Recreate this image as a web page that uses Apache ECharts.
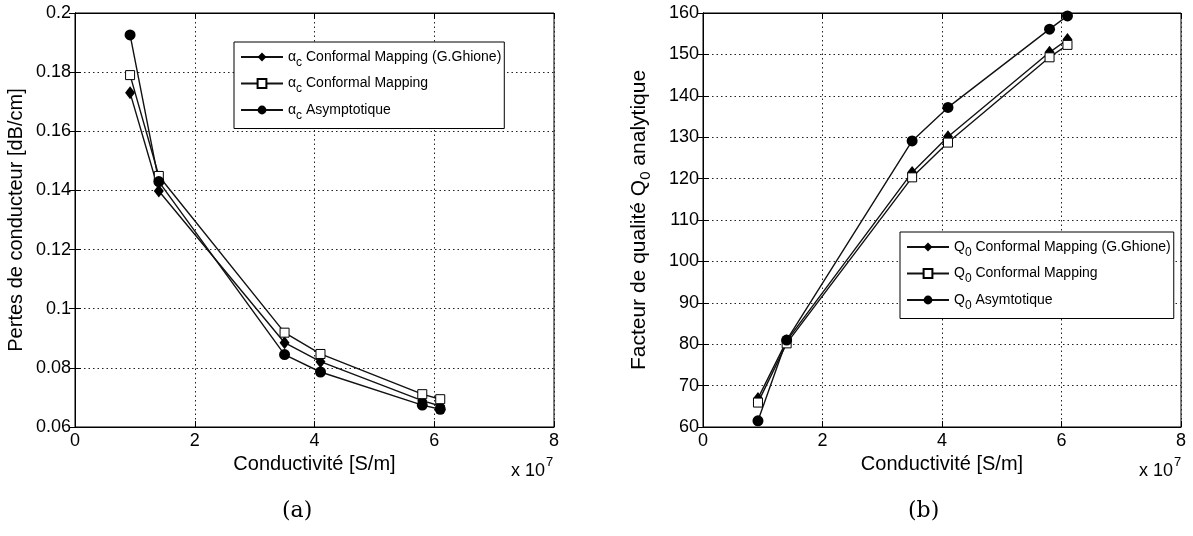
<!DOCTYPE html>
<html><head><meta charset="utf-8">
<script src="https://cdn.jsdelivr.net/npm/echarts@6/dist/echarts.min.js"></script>
<style>html,body{margin:0;padding:0;background:#fff}#c{width:1193px;height:536px}</style>
</head><body><div id="c"></div>
<script>
// ---- data (conductivity in units of 1e7 S/m) ----
const xCond = [0.92, 1.4, 3.5, 4.1, 5.8, 6.1];
const alphaGhione = [0.173, 0.1398, 0.0885, 0.0821, 0.0689, 0.0671];
const alphaConformal = [0.179, 0.1449, 0.0919, 0.0847, 0.0711, 0.0694];
const alphaAsym = [0.1926, 0.143, 0.0845, 0.0786, 0.0674, 0.066];
const qGhione = [66.9, 80.8, 121.5, 130.1, 150.5, 153.6];
const qConformal = [65.9, 80.2, 120.3, 128.7, 149.3, 152.3];
const qAsym = [61.5, 81.0, 129.1, 137.2, 156.1, 159.3];
const xTicks = [0, 2, 4, 6, 8];
const yTicksLeft = [0.06, 0.08, 0.1, 0.12, 0.14, 0.16, 0.18, 0.2];
const yTicksRight = [60, 70, 80, 90, 100, 110, 120, 130, 140, 150, 160];
const legendLeft = ['αc Conformal Mapping (G.Ghione)', 'αc Conformal Mapping', 'αc Asymptotique'];
const legendRight = ['Q0 Conformal Mapping (G.Ghione)', 'Q0 Conformal Mapping', 'Q0 Asymtotique'];

const FONT = 'Liberation Sans, Arial, sans-serif';
const chart = echarts.init(document.getElementById('c'));

function pair(xs, ys) { return xs.map((x, i) => [x, ys[i]]); }
function fmtLegend(name) {
  return '{m|' + name.charAt(0) + '}{s|' + name.charAt(1) + '}{m|' + name.slice(2) + '}';
}
const gridLine = { show: true, lineStyle: { color: '#222', type: [1.5, 3], width: 1 } };
const tickIn = { inside: true, length: 6, lineStyle: { color: '#000' } };
function xAxisDef(gi) {
  return {
    type: 'value', gridIndex: gi, min: xTicks[0], max: xTicks[xTicks.length - 1],
    interval: xTicks[1] - xTicks[0],
    name: 'Conductivité [S/m]', nameLocation: 'middle', nameGap: 27,
    nameTextStyle: { fontFamily: FONT, fontSize: 20, color: '#000' },
    axisLine: { lineStyle: { color: '#000', width: 1 } },
    axisTick: tickIn,
    axisLabel: { fontFamily: FONT, fontSize: 18, color: '#000', margin: 5 },
    splitLine: gridLine
  };
}
function xTopDef(gi) {
  return { type: 'value', gridIndex: gi, position: 'top', min: xTicks[0], max: xTicks[xTicks.length - 1],
    interval: xTicks[1] - xTicks[0], axisLine: { lineStyle: { color: '#000' } }, axisTick: tickIn,
    axisLabel: { show: false }, splitLine: { show: false } };
}
function yRightDef(gi, ticks) {
  return { type: 'value', gridIndex: gi, position: 'right', min: ticks[0], max: ticks[ticks.length - 1],
    interval: ticks[1] - ticks[0], axisLine: { lineStyle: { color: '#000' } }, axisTick: tickIn,
    axisLabel: { show: false }, splitLine: { show: false } };
}
function symStyle(kind) {
  if (kind === 'diamond') return { symbol: 'diamond', symbolSize: [10, 13], itemStyle: { color: '#000' } };
  if (kind === 'square') return { symbol: 'rect', symbolSize: 9, itemStyle: { color: '#fff', borderColor: '#000', borderWidth: 1 } };
  return { symbol: 'circle', symbolSize: 11, itemStyle: { color: '#000' } };
}
function lineSeries(name, xi, data, kind) {
  return Object.assign({
    type: 'line', name: name, xAxisIndex: xi, yAxisIndex: xi, data: data,
    lineStyle: { color: '#111', width: 1.4 }, showSymbol: true, animation: false, z: 3
  }, symStyle(kind));
}
const kinds = ['diamond', 'square', 'circle'];
const legendText = {
  fontFamily: FONT, fontSize: 14, color: '#000',
  rich: { m: { fontSize: 14, fontFamily: FONT }, s: { fontSize: 12, fontFamily: FONT, padding: [11, 0, 0, 0] } }
};
function legendDef(names, left, top) {
  return { data: names, orient: 'vertical', left: left, top: top, itemWidth: 42, itemHeight: 11, itemGap: 8,
    padding: [8, 3, 7, 6], borderColor: '#000', borderWidth: 1, backgroundColor: '#fff',
    formatter: fmtLegend, textStyle: legendText };
}

const option = {
  backgroundColor: '#fff',
  animation: false,
  grid: [
    { left: 75, top: 13, width: 479, height: 414, show: true, borderColor: '#000', borderWidth: 1 },
    { left: 703, top: 13, width: 478, height: 414, show: true, borderColor: '#000', borderWidth: 1 }
  ],
  legend: [legendDef(legendLeft, 234, 42), legendDef(legendRight, 900, 232)],
  xAxis: [xAxisDef(0), xAxisDef(1), xTopDef(0), xTopDef(1)],
  yAxis: [
    { type: 'value', gridIndex: 0, min: yTicksLeft[0], max: yTicksLeft[yTicksLeft.length - 1], interval: 0.02,
      name: 'Pertes de conducteur [dB/cm]', nameLocation: 'middle', nameGap: 49, nameRotate: 90,
      nameTextStyle: { fontFamily: FONT, fontSize: 20, color: '#000' },
      axisLine: { lineStyle: { color: '#000', width: 1 } },
      axisTick: tickIn,
      axisLabel: { fontFamily: FONT, fontSize: 18, color: '#000', margin: 4,
        formatter: v => String(Number(v.toFixed(2))) },
      splitLine: gridLine },
    { type: 'value', gridIndex: 1, min: yTicksRight[0], max: yTicksRight[yTicksRight.length - 1], interval: 10,
      name: 'Facteur de qualité Q{s|0} analytique', nameLocation: 'middle', nameGap: 50, nameRotate: 90,
      nameTextStyle: { fontFamily: FONT, fontSize: 21, color: '#000',
        rich: { s: { fontSize: 15, fontFamily: FONT, padding: [12, 0, 0, 0] } } },
      axisLine: { lineStyle: { color: '#000', width: 1 } },
      axisTick: tickIn,
      axisLabel: { fontFamily: FONT, fontSize: 18, color: '#000', margin: 4 },
      splitLine: gridLine },
    yRightDef(0, yTicksLeft), yRightDef(1, yTicksRight)
  ],
  series: [
    lineSeries(legendLeft[0], 0, pair(xCond, alphaGhione), kinds[0]),
    lineSeries(legendLeft[1], 0, pair(xCond, alphaConformal), kinds[1]),
    lineSeries(legendLeft[2], 0, pair(xCond, alphaAsym), kinds[2]),
    lineSeries(legendRight[0], 1, pair(xCond, qGhione), kinds[0]),
    lineSeries(legendRight[1], 1, pair(xCond, qConformal), kinds[1]),
    lineSeries(legendRight[2], 1, pair(xCond, qAsym), kinds[2])
  ],
  graphic: [
    { type: 'text', left: 511, top: 456, style: { text: '{m|x 10}{p|7}', fill: '#000',
      rich: { m: { fontFamily: FONT, fontSize: 18, padding: [8, 0, 0, 0] }, p: { fontFamily: FONT, fontSize: 13, padding: [0, 0, 10, 1] } } } },
    { type: 'text', left: 1139, top: 456, style: { text: '{m|x 10}{p|7}', fill: '#000',
      rich: { m: { fontFamily: FONT, fontSize: 18, padding: [8, 0, 0, 0] }, p: { fontFamily: FONT, fontSize: 13, padding: [0, 0, 10, 1] } } } },
    { type: 'text', left: 282, top: 500, style: { text: '(a)', fill: '#000', fontFamily: 'DejaVu Serif, Liberation Serif, serif', fontSize: 22 } },
    { type: 'text', left: 908, top: 500, style: { text: '(b)', fill: '#000', fontFamily: 'DejaVu Serif, Liberation Serif, serif', fontSize: 22 } }
  ]
};
chart.setOption(option);
</script>
</body></html>
